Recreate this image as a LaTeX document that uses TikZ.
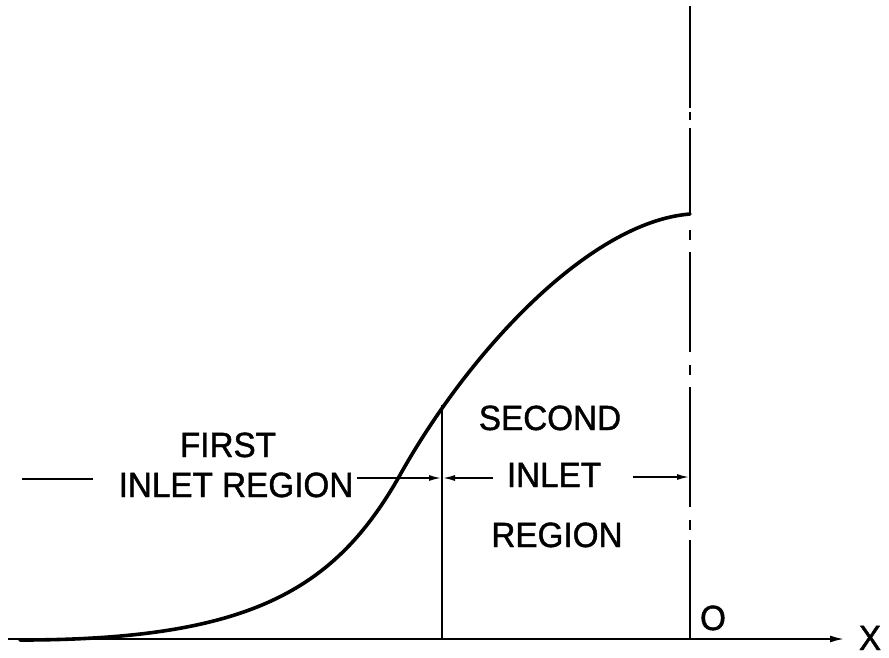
\documentclass[tikz,border=0pt]{standalone}
\usepackage{fontspec}
\setmainfont{Liberation Sans}
\newfontfamily\lblfont{Liberation Sans}[FakeStretch=0.95, FakeBold=1.2]
\usetikzlibrary{arrows.meta}
\tikzset{
  lbl/.style={inner sep=0pt, anchor=base, font=\lblfont\fontsize{35}{35}\selectfont},
  thinline/.style={line width=1.8pt},
  dimarrow/.style={line width=1.5pt, -{Latex[length=12pt,width=6pt]}},
  curveline/.style={line width=3.6pt, line cap=round, line join=round},
  cl/.style={line width=2.4pt},
}
\begin{document}
\begin{tikzpicture}[x=1pt,y=-1pt]
\useasboundingbox (0,0) rectangle (889,657);
% coordinates
\coordinate (axL) at (8,639);
\coordinate (axR) at (844,639);
\coordinate (vTop) at (442,405);
\coordinate (vBot) at (442,639);
\coordinate (cTop) at (690,214);
\coordinate (cStart) at (20,640);
\coordinate (cMid) at (400,475);
% axis
\draw[thinline, -{Latex[length=14pt,width=7pt]}] (axL) -- (axR);
% curve
\draw[curveline] (cStart) .. controls (250,640) and (335,590) .. (cMid)
  .. controls (470,350) and (590,222) .. (cTop);
% centre line (dash-dot)
\draw[cl] (690,6) -- (690,108);
\draw[cl] (690,112) -- (690,120);
\draw[cl] (690,128) -- (cTop);
\draw[cl] (690,230) -- (690,240);
\draw[cl] (690,252) -- (690,352);
\draw[cl] (690,365) -- (690,375);
\draw[cl] (690,387) -- (690,507);
\draw[cl] (690,520) -- (690,530);
\draw[cl] (690,540) -- (690,639);
% boundary line
\draw[thinline] (vTop) -- (vBot);
% labels
\node[lbl] (first) at (228,457) {FIRST};
\node[lbl] (inletA) at (236,497) {INLET REGION};
\node[lbl] (second) at (550,430) {SECOND};
\node[lbl] (inletB) at (554,487) {INLET};
\node[lbl] (region) at (557,547) {REGION};
\node[lbl] (origin) at (713,630) {O};
\node[lbl] (xlab) at (870,650) {X};
% dimension arrows
\coordinate (dL1) at (22,479);
\coordinate (dL2) at (93,479);
\draw[line width=1.5pt] (dL1) -- (dL2);
\coordinate (a1s) at (357,478);
\coordinate (a1e) at (441,478);
\draw[dimarrow] (a1s) -- (a1e);
\coordinate (a2s) at (493,478);
\coordinate (a2e) at (443,478);
\draw[dimarrow] (a2s) -- (a2e);
\coordinate (a3s) at (633,477);
\coordinate (a3e) at (689,477);
\draw[dimarrow] (a3s) -- (a3e);
\end{tikzpicture}
\end{document}
